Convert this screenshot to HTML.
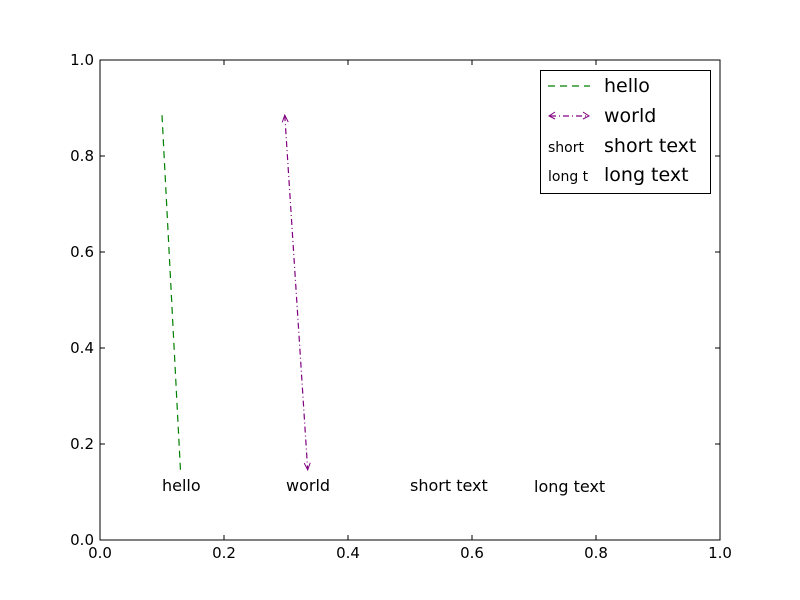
<!DOCTYPE html>
<html><head><meta charset="utf-8"><style>
html,body{margin:0;padding:0;background:#fff;}
svg{display:block;font-family:"DejaVu Sans","Liberation Sans",sans-serif;}
</style></head><body>
<svg id="chart" width="800" height="600" viewBox="0 0 800 600">
<rect x="0" y="0" width="800" height="600" fill="#fff"/>
<g id="plot"></g>
<rect x="100" y="60" width="620" height="480" fill="none" stroke="#000" stroke-width="1"/>
<g id="ticks"></g>
<g id="legend">
<rect x="540.5" y="70.5" width="170" height="123" fill="#fff" stroke="#000" stroke-width="1"/>
<line x1="548" y1="86" x2="590" y2="86" stroke="#008000" stroke-width="1.2" stroke-dasharray="7,5"/>
<text x="604" y="92" font-size="19">hello</text>
<line x1="550" y1="116" x2="588" y2="116" stroke="#800080" stroke-width="1.2" stroke-dasharray="6,3,1,3"/>
<path d="M555,112 L549,116 L555,119 M583,112 L589,116 L583,119" fill="none" stroke="#800080" stroke-width="1"/>
<text x="604" y="122" font-size="19">world</text>
<text x="548" y="152" font-size="14">short</text>
<text x="604" y="152" font-size="19">short text</text>
<text x="548" y="181" font-size="14">long t</text>
<text x="604" y="181" font-size="19">long text</text>
</g>
</svg>
<script>
const xTicks = [0, 0.2, 0.4, 0.6, 0.8, 1.0];
const yTicks = [0, 0.2, 0.4, 0.6, 0.8, 1.0];
const tickLabels = ["0.0", "0.2", "0.4", "0.6", "0.8", "1.0"];
const helloX = [0.10, 0.13];
const helloY = [0.885, 0.14];
const worldX = [0.298, 0.335];
const worldY = [0.885, 0.146];
const annoTexts = ["hello", "world", "short text", "long text"];
const annoX = [0.1, 0.3, 0.5, 0.7];
const annoY = [0.1, 0.1, 0.1, 0.098];

const NS = "http://www.w3.org/2000/svg";
const sx = v => 100 + v * 620;
const sy = v => 540 - v * 480;
function mk(tag, attrs, parent) {
  const e = document.createElementNS(NS, tag);
  for (const k in attrs) e.setAttribute(k, attrs[k]);
  parent.appendChild(e);
  return e;
}
const plot = document.getElementById("plot");
const ticks = document.getElementById("ticks");

let l = mk("line", {x1: sx(helloX[0]), y1: sy(helloY[0]), x2: sx(helloX[1]), y2: sy(helloY[1]), stroke: "#008000", "stroke-width": 1.2, "stroke-dasharray": "7,5"}, plot);



let w = mk("line", {x1: sx(worldX[0]), y1: sy(worldY[0]), x2: sx(worldX[1]), y2: sy(worldY[1]), stroke: "#800080", "stroke-width": 1.2, "stroke-dasharray": "6,3,1,3"}, plot);



function head(xa, ya, xb, yb) {
  const x1 = sx(xa), y1 = sy(ya), x0 = sx(xb), y0 = sy(yb);
  const dx = x1 - x0, dy = y1 - y0, L = Math.hypot(dx, dy), ux = dx / L, uy = dy / L;
  const bx = x1 - ux * 7, by = y1 - uy * 7;
  return `M${bx - uy * 3},${by + ux * 3} L${x1},${y1} L${bx + uy * 3},${by - ux * 3}`;
}
let h = mk("path", {d: head(worldX[0], worldY[0], worldX[1], worldY[1]) + " " + head(worldX[1], worldY[1], worldX[0], worldY[0]), fill: "none", stroke: "#800080", "stroke-width": 1}, plot);



annoTexts.forEach((t, i) => {
  const e = mk("text", {x: sx(annoX[i]), y: sy(annoY[i]) - 1, "font-size": 16}, plot);
  e.textContent = t;
  
  
});

xTicks.forEach((v, i) => {
  const x = sx(v);
  const t1 = mk("line", {x1: x, y1: 540, x2: x, y2: 535, stroke: "#000"}, ticks);
  
  
  const t2 = mk("line", {x1: x, y1: 60, x2: x, y2: 65, stroke: "#000"}, ticks);
  
  
  const lb = mk("text", {x: x, y: 558, "font-size": 15, "text-anchor": "middle"}, ticks);
  lb.textContent = tickLabels[i];
  
  
});
yTicks.forEach((v, i) => {
  const y = sy(v);
  const t1 = mk("line", {x1: 100, y1: y, x2: 105, y2: y, stroke: "#000"}, ticks);
  
  
  const t2 = mk("line", {x1: 720, y1: y, x2: 715, y2: y, stroke: "#000"}, ticks);
  
  
  const lb = mk("text", {x: 94, y: y + 5, "font-size": 15, "text-anchor": "end"}, ticks);
  lb.textContent = tickLabels[i];
  
  
});
</script>
</body></html>
